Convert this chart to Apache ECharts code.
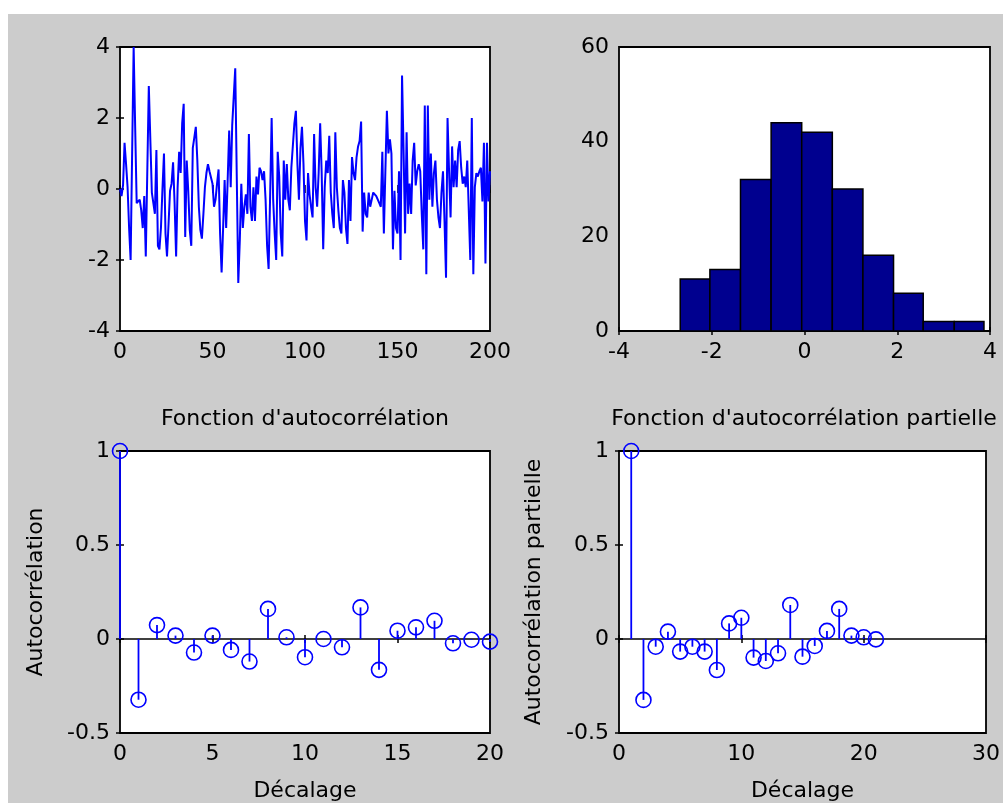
<!DOCTYPE html>
<html>
<head>
<meta charset="utf-8">
<script src="https://cdn.jsdelivr.net/npm/echarts@6/dist/echarts.min.js"></script>
<style>
body{margin:0;background:#fff}
#bg{position:absolute;left:8px;top:14px;right:0;bottom:0;background:#cccccc}
#chart{position:absolute;left:0;top:0;width:1003px;height:803px}
</style>
</head>
<body>
<div id="bg"></div>
<div id="chart"></div>
<script>
// serie simulee (haut gauche)
var tsValues = [0.0,-0.2,0.1,1.3,0.7,0.05,-1.1,-2.0,1.0,4.0,1.75,-0.4,-0.4,-0.3,-0.6,-1.1,-0.2,-1.9,0.5,2.9,
  1.4,-0.1,-0.4,-0.7,1.1,-1.6,-1.7,-1.1,0.0,1.0,-1.25,-1.9,-1.0,-0.05,0.15,0.75,-0.4,-1.9,0.05,1.05,
  0.45,1.85,2.4,-1.35,0.8,-0.05,-1.15,-1.6,1.15,1.45,1.75,0.8,-0.5,-1.15,-1.4,-0.7,0.05,0.45,0.7,0.5,
  0.45,0.15,-0.5,-0.3,0.15,0.55,-1.25,-2.35,-1.1,0.25,-1.1,0.25,1.65,0.05,1.8,1.85,3.4,0.35,-2.65,-1.45,
  0.15,-1.1,-0.5,-0.15,-0.7,1.55,-0.5,-0.9,0.05,-0.9,0.35,-0.15,0.6,0.5,0.25,0.5,-0.3,-1.6,-2.25,-0.2,
  2.0,-0.3,-1.25,-2.0,1.05,0.35,-1.25,-1.9,0.8,-0.3,0.7,-0.3,-0.6,0.6,0.55,1.85,2.2,0.7,-0.3,1.15,
  1.75,0.7,-0.9,-1.45,0.45,-0.15,-0.5,-0.8,1.55,0.05,-0.5,0.45,1.85,0.45,-1.7,0.05,0.8,0.45,1.5,-0.1,
  -0.7,-1.1,1.6,0.05,-0.6,-1.1,-1.25,0.25,-0.1,-1.1,-1.55,0.25,-0.9,0.9,0.45,0.25,0.9,1.2,1.35,1.9,
  -1.2,-0.1,-0.7,-0.8,-0.1,-0.5,-0.3,-0.1,-0.1,-0.2,-0.3,-0.4,-0.5,1.05,-1.25,0.5,2.2,1.0,1.4,1.0,
  -1.7,-0.05,-1.1,-1.25,0.5,-2.0,3.2,1.1,-1.25,1.6,-0.7,0.15,-0.7,0.8,1.3,0.1,0.5,0.7,0.5,-0.7,
  -1.7,2.35,-2.4,2.35,-0.3,1.0,-0.5,0.45,0.8,-0.3,-0.8,-1.1,-0.1,0.5,-0.9,-2.5,2.0,0.5,-0.8,1.2,
  0.05,0.8,0.05,1.1,1.35,0.6,0.15,0.35,0.05,0.8,-0.6,-2.0,2.0,-2.4,0.05,0.45,0.35,0.5,0.6,-0.35,
  1.3,-2.1,1.3,-0.35,0.5];
var tsLength = 200;

// histogramme (haut droite)
var histEdges = [-2.68,-2.04,-1.38,-0.72,-0.06,0.60,1.26,1.92,2.56,3.23,3.87];
var histCounts = [11,13,32,44,42,30,16,8,2,2];

// autocorrelation (bas gauche)
var acfLags = [0,1,2,3,4,5,6,7,8,9,10,11,12,13,14,15,16,17,18,19,20];
var acfValues = [1.0,-0.323,0.074,0.018,-0.072,0.018,-0.058,-0.12,0.16,0.009,-0.097,0.0,-0.044,0.168,-0.164,0.044,0.062,0.097,-0.023,-0.004,-0.014];

// autocorrelation partielle (bas droite)
var pacfLags = [1,2,3,4,5,6,7,8,9,10,11,12,13,14,15,16,17,18,19,20,21];
var pacfValues = [1.0,-0.324,-0.041,0.039,-0.067,-0.041,-0.067,-0.165,0.083,0.113,-0.099,-0.117,-0.076,0.181,-0.094,-0.037,0.043,0.16,0.018,0.009,-0.002];

var font = 'DejaVu Sans'
var blue = '#0000ff'

var tsData = tsValues.map(function(v, i){ return [i * tsLength / (tsValues.length - 1), v] })
var histData = histCounts.map(function(c, i){ return [histEdges[i], histEdges[i+1], c] })
var acfData = acfLags.map(function(l, i){ return [l, acfValues[i]] })
var pacfData = pacfLags.map(function(l, i){ return [l, pacfValues[i]] })

var tick = {inside:true, length:4, lineStyle:{color:'#000', width:1.5}}
var label = {margin:10, fontSize:22, fontFamily:font, color:'#000'}
var nameStyle = {fontSize:22, fontFamily:font, color:'#000'}

function xAxes(g, min, max, step, name){
    return [
        {type:'value', gridIndex:g, position:'bottom', min:min, max:max, interval:step,
         axisLine:{show:false}, splitLine:{show:false}, axisTick:tick, axisLabel:label,
         name:name || '', nameLocation:'middle', nameGap:47, nameTextStyle:nameStyle},
        {type:'value', gridIndex:g, position:'top', min:min, max:max, interval:step,
         axisLine:{show:false}, splitLine:{show:false}, axisTick:tick, axisLabel:{show:false}}
    ]
}
function yAxes(g, min, max, step, name, gap){
    return [
        {type:'value', gridIndex:g, position:'left', min:min, max:max, interval:step,
         axisLine:{show:false}, splitLine:{show:false}, axisTick:tick, axisLabel:label,
         name:name || '', nameLocation:'middle', nameGap:gap || 0, nameTextStyle:nameStyle},
        {type:'value', gridIndex:g, position:'right', min:min, max:max, interval:step,
         axisLine:{show:false}, splitLine:{show:false}, axisTick:tick, axisLabel:{show:false}}
    ]
}

function stemItem(params, api){
    var x = api.value(0), y = api.value(1)
    var p0 = api.coord([x, 0]), p1 = api.coord([x, y])
    return {type:'group', children:[
        {type:'line', shape:{x1:p0[0], y1:p0[1], x2:p1[0], y2:p1[1]}, style:{stroke:blue, lineWidth:1.8}},
        {type:'circle', shape:{cx:p1[0], cy:p1[1], r:7.5}, style:{fill:'none', stroke:blue, lineWidth:1.6}}
    ]}
}
function histItem(params, api){
    var p0 = api.coord([api.value(0), 0]), p1 = api.coord([api.value(1), api.value(2)])
    return {type:'rect', shape:{x:p0[0], y:p1[1], width:p1[0]-p0[0], height:p0[1]-p1[1]},
        style:{fill:'#00008f', stroke:'#000', lineWidth:1.5}}
}

var gridBase = {show:true, backgroundColor:'#fff', borderColor:'#000', borderWidth:1.8}
var chart = echarts.init(document.getElementById('chart'))
chart.setOption({
    animation:false,
    grid:[
        Object.assign({left:120, top:47, width:370, height:284}, gridBase),
        Object.assign({left:619, top:47, width:371, height:284}, gridBase),
        Object.assign({left:120, top:451, width:370, height:283}, gridBase),
        Object.assign({left:619, top:451, width:371, height:283}, gridBase)
    ],
    xAxis: [].concat(xAxes(0, 0, 200, 50), xAxes(1, -4, 4, 2), xAxes(2, 0, 20, 5, 'Décalage'), xAxes(3, 0, 30, 10, 'Décalage')),
    yAxis: [].concat(yAxes(0, -4, 4, 2), yAxes(1, 0, 60, 20), yAxes(2, -0.5, 1, 0.5, 'Autocorrélation', 73), yAxes(3, -0.5, 1, 0.5, 'Autocorrélation partielle', 74)),
    graphic:[
        {type:'text', x:305, y:419, style:{text:"Fonction d'autocorrélation", font:'22px "DejaVu Sans"', fill:'#000', align:'center', verticalAlign:'middle'}},
        {type:'text', x:804, y:419, style:{text:"Fonction d'autocorrélation partielle", font:'22px "DejaVu Sans"', fill:'#000', align:'center', verticalAlign:'middle'}}
    ],
    series:[
        {type:'line', xAxisIndex:0, yAxisIndex:0, data:tsData, symbol:'none', clip:true,
         lineStyle:{color:blue, width:2}},
        {type:'custom', xAxisIndex:2, yAxisIndex:2, data:histData, renderItem:histItem},
        {type:'line', xAxisIndex:4, yAxisIndex:4, data:[[0,0],[20,0]], symbol:'none', lineStyle:{color:'#000', width:1.6}},
        {type:'custom', xAxisIndex:4, yAxisIndex:4, data:acfData, renderItem:stemItem, z:5},
        {type:'line', xAxisIndex:6, yAxisIndex:6, data:[[0,0],[30,0]], symbol:'none', lineStyle:{color:'#000', width:1.6}},
        {type:'custom', xAxisIndex:6, yAxisIndex:6, data:pacfData, renderItem:stemItem, z:5}
    ]
})
</script>
</body>
</html>
